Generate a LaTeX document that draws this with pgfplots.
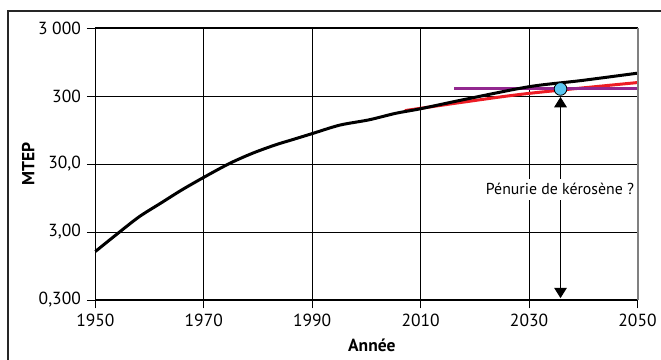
\documentclass[border=0pt]{standalone}
\usepackage{pgfplots}
\pgfplotsset{compat=1.18}
\usetikzlibrary{arrows.meta}
\usepackage{fontspec}
\setmainfont{PT Sans}
\definecolor{cred}{HTML}{ED1C24}
\definecolor{cpurple}{HTML}{92278F}
\definecolor{ccyan}{HTML}{5BC8F2}
\begin{document}
\fontsize{10.5}{12.6}\selectfont
\begin{tikzpicture}
\useasboundingbox (-57.2pt,-35.4pt) rectangle (339.4pt,180pt);
\draw[line width=0.7pt, black!85] (-52.4pt,-60pt) -- (-52.4pt,173.4pt) -- (360pt,173.4pt);
\begin{axis}[
  at={(0,0)}, anchor=south west,
  scale only axis, width=325.3pt, height=163.2pt,
  clip=false,
  xmin=1950, xmax=2050, ymode=log, ymin=0.3, ymax=3000,
  xtick={1950,1970,1990,2010,2030,2050},
  xticklabels={1950,1970,1990,2010,2030,2050},
  ytick={0.3,3,30,300,3000},
  yticklabels={{0,300},{3,00},{30,0},300,{3 000}},
  xminorticks=false, yminorticks=false,
  grid=major, grid style={black, line width=0.6pt},
  axis line style={black, line width=0.7pt},
  tick align=outside, major tick length=5pt,
  tick style={black, line width=0.6pt},
  xtick pos=bottom, ytick pos=left,
  tick label style={font=\fontsize{10.5}{12}\selectfont},
  /pgf/number format/assume math mode=true,
  xlabel={\textbf{Année}}, ylabel={\textbf{MTEP}},
  xlabel style={at={(axis description cs:0.51,-0.165)}, anchor=center},
  ylabel style={at={(axis description cs:-0.124,0.5)}, anchor=center},
]
\addplot[cred, line width=1.8pt, smooth] coordinates {
  (2007.1,183) (2018.2,246) (2030,328) (2050,473)};
\addplot[cpurple, line width=1.8pt] coordinates {(2016.2,381) (2050,381)};
\addplot[black, line width=1.8pt, smooth, tension=0.5] coordinates {
  (1950,1.55) (1954.6,3.06) (1958.2,5.1) (1962.1,8.0) (1965.9,12.4)
  (1970,19.1) (1974.8,30.7) (1979,43.2) (1983.2,57.3) (1986.2,67.8)
  (1990,84) (1995.1,112) (2000.5,134) (2005.4,167) (2010,195)
  (2018.2,268) (2030,411) (2039.6,506) (2050,650)};
\addplot[black, line width=0.6pt, {Triangle[width=7.6pt,length=6.2pt]}-{Triangle[width=7.6pt,length=6.2pt]}] coordinates {(2035.8,290) (2035.8,0.32)};
\addplot[only marks, mark=*, mark size=3.8pt, mark options={fill=ccyan, draw=black, line width=0.5pt}] coordinates {(2035.8,381)};
\node[fill=white, inner xsep=1.5pt, inner ysep=3pt, font=\fontsize{9.5}{11}\selectfont] at (axis cs:2035.7,12.7) {Pénurie de kérosène ?};
\draw[gray, line width=1.2pt] (rel axis cs:1,0) -- (rel axis cs:1,1);
\end{axis}
\end{tikzpicture}
\end{document}
